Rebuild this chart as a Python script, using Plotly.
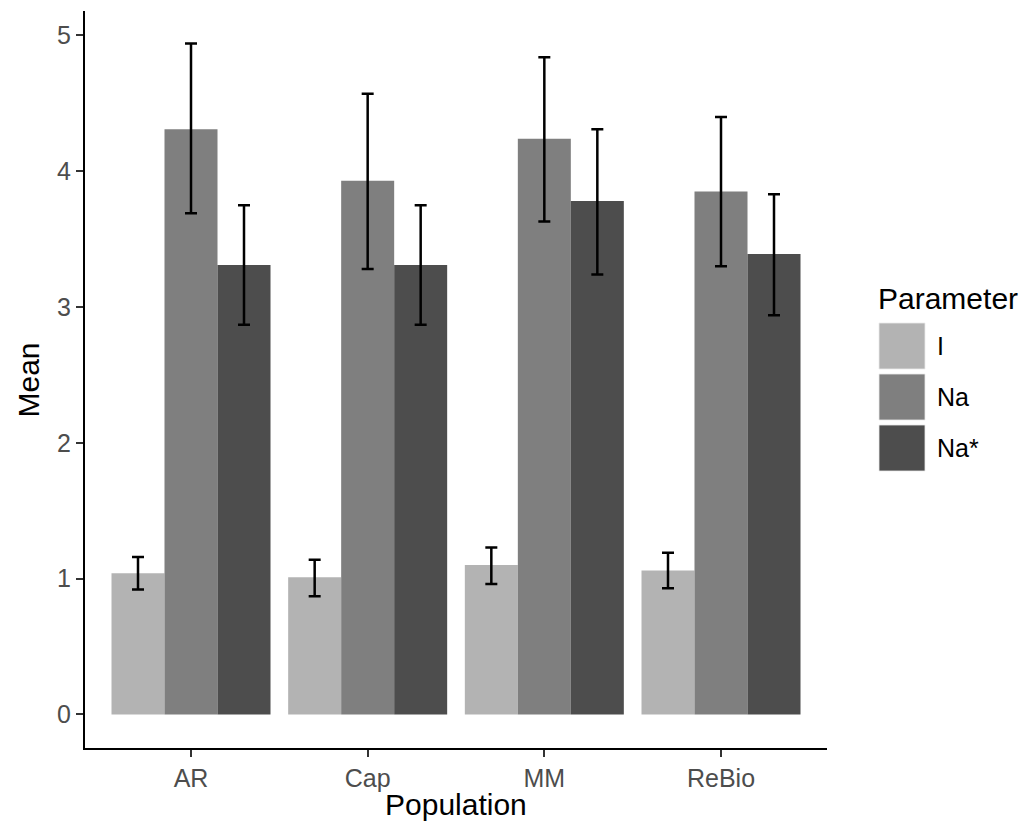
import plotly.graph_objects as go

# Population means with lower/upper bounds for each parameter
populations = ["AR", "Cap", "MM", "ReBio"]
parameters = ["I", "Na", "Na*"]

mean_I = [1.04, 1.01, 1.10, 1.06]
low_I = [0.92, 0.87, 0.96, 0.93]
high_I = [1.16, 1.14, 1.23, 1.19]

mean_Na = [4.31, 3.93, 4.24, 3.85]
low_Na = [3.69, 3.28, 3.63, 3.30]
high_Na = [4.94, 4.57, 4.84, 4.40]

mean_NaS = [3.31, 3.31, 3.78, 3.39]
low_NaS = [2.87, 2.87, 3.24, 2.94]
high_NaS = [3.75, 3.75, 4.31, 3.83]

y_ticks = [0, 1, 2, 3, 4, 5]

fills = {"I": "#B3B3B3", "Na": "#7F7F7F", "Na*": "#4D4D4D"}
series = {
    "I": (mean_I, low_I, high_I),
    "Na": (mean_Na, low_Na, high_Na),
    "Na*": (mean_NaS, low_NaS, high_NaS),
}

FONT = "Liberation Sans, Arial, sans-serif"
W, H = 1034, 830
ML, MR, MT, MB = 85, 207, 11, 82
PW, PH = W - ML - MR, H - MT - MB


def px_x(x):
    return (x - ML) / PW


def px_y(y):
    return (H - MB - y) / PH


fig = go.Figure()
for p in parameters:
    m, lo, hi = series[p]
    fig.add_trace(go.Bar(
        x=populations, y=m, name=p,
        marker=dict(color=fills[p], line=dict(width=0)),
        error_y=dict(
            type="data", symmetric=False,
            array=[h - v for h, v in zip(hi, m)],
            arrayminus=[v - l for v, l in zip(m, lo)],
            color="black", thickness=2.5, width=6,
        ),
        showlegend=False,
    ))

# Legend drawn as large grey keys
shapes = []
annotations = []
key_left, key_size, key_top, key_step = 879, 46, 323, 51
for i, p in enumerate(parameters):
    top = key_top + i * key_step
    shapes.append(dict(
        type="rect", xref="paper", yref="paper",
        x0=px_x(key_left), x1=px_x(key_left + key_size),
        y0=px_y(top + key_size), y1=px_y(top),
        fillcolor=fills[p], line=dict(width=0.8, color="#EBEBEB"),
    ))
    annotations.append(dict(
        xref="paper", yref="paper", x=px_x(key_left + key_size + 10),
        y=px_y(top + key_size / 2), text=p, showarrow=False,
        xanchor="left", yanchor="middle",
        font=dict(family=FONT, size=25, color="black"),
    ))
annotations.append(dict(
    xref="paper", yref="paper", x=px_x(876), y=px_y(298), text="Parameter",
    showarrow=False, xanchor="left", yanchor="middle",
    font=dict(family=FONT, size=30, color="black"),
))
# Axis titles
annotations.append(dict(
    xref="paper", yref="paper", x=0.5, y=px_y(804), text="Population",
    showarrow=False, xanchor="center", yanchor="middle",
    font=dict(family=FONT, size=30, color="black"),
))
annotations.append(dict(
    xref="paper", yref="paper", x=px_x(28), y=0.5, text="Mean",
    showarrow=False, xanchor="center", yanchor="middle", textangle=-90,
    font=dict(family=FONT, size=30, color="black"),
))

fig.update_layout(
    width=W, height=H,
    margin=dict(l=ML, r=MR, t=MT, b=MB),
    paper_bgcolor="white", plot_bgcolor="white",
    barmode="group", bargap=0.1, bargroupgap=0,
    shapes=shapes, annotations=annotations,
    font=dict(family=FONT),
)
fig.update_xaxes(
    type="category", range=[-0.6, 3.6],
    showline=True, linecolor="black", linewidth=2,
    ticks="outside", ticklen=7, tickwidth=2, tickcolor="#333333",
    tickfont=dict(family=FONT, size=25, color="#4D4D4D"),
    showgrid=False, zeroline=False,
)
fig.update_yaxes(
    range=[-0.247, 5.18], tickvals=y_ticks,
    showline=True, linecolor="black", linewidth=2,
    ticks="outside", ticklen=7, tickwidth=2, tickcolor="#333333",
    tickfont=dict(family=FONT, size=25, color="#4D4D4D"),
    showgrid=False, zeroline=False,
)

fig.write_html("out.html")
